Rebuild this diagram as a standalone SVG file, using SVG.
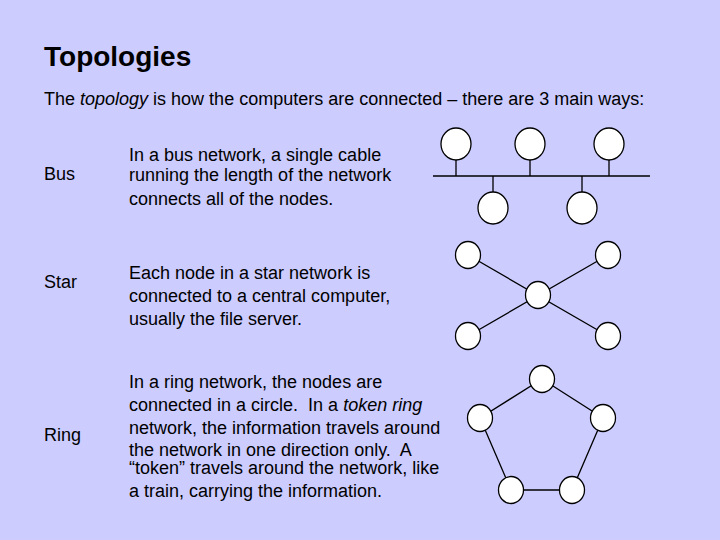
<svg xmlns="http://www.w3.org/2000/svg" width="720" height="540" viewBox="0 0 720 540">
<style>
text{font-family:"Liberation Sans",Arial,sans-serif;fill:#000;white-space:pre}
.b{font-size:18px}
.n{fill:#fff;stroke:#000;stroke-width:1.3}
.c{stroke:#000;stroke-width:1.3;fill:none}
</style>
<rect width="720" height="540" fill="#ccccff"/>
<text x="44" y="66" font-size="28" font-weight="bold">Topologies</text>
<text x="44" y="105" class="b">The <tspan font-style="italic">topology</tspan> is how the computers are connected – there are 3 main ways:</text>
<text x="44" y="180" class="b">Bus</text>
<text class="b"><tspan x="129" y="161">In a bus network, a single cable</tspan><tspan x="129" y="181">running the length of the network</tspan><tspan x="129" y="205">connects all of the nodes.</tspan></text>
<text x="44" y="288" class="b">Star</text>
<text class="b"><tspan x="129" y="279">Each node in a star network is</tspan><tspan x="129" y="302">connected to a central computer,</tspan><tspan x="129" y="325">usually the file server.</tspan></text>
<text x="44" y="441" class="b">Ring</text>
<text class="b"><tspan x="129" y="388">In a ring network, the nodes are</tspan><tspan x="129" y="411">connected in a circle.  In a <tspan font-style="italic">token ring</tspan></tspan><tspan x="129" y="434">network, the information travels around</tspan><tspan x="129" y="456">the network in one direction only.  A</tspan><tspan x="129" y="474">“token” travels around the network, like</tspan><tspan x="129" y="497">a train, carrying the information.</tspan></text>
<g id="connectors">
<path class="c" d="M433 176H650M456 160V176M530 160V176M609 160V176M493 176V192M582 176V192"/>
<path class="c" d="M468 255L608 336M608 255L468 336"/>
<path class="c" d="M542 379L603 418L572 490L511 490L480 418Z"/>
</g>
<g id="bus1"><ellipse class="n" cx="456" cy="144" rx="15" ry="16"/></g>
<g id="bus2"><ellipse class="n" cx="530" cy="144" rx="15" ry="16"/></g>
<g id="bus3"><ellipse class="n" cx="609" cy="144" rx="15" ry="16"/></g>
<g id="bus4"><ellipse class="n" cx="493" cy="208" rx="15" ry="16"/></g>
<g id="bus5"><ellipse class="n" cx="582" cy="208" rx="15" ry="16"/></g>
<g id="star1"><ellipse class="n" cx="468" cy="255" rx="12.5" ry="13.5"/></g>
<g id="star2"><ellipse class="n" cx="608" cy="255" rx="12.5" ry="13.5"/></g>
<g id="star0"><ellipse class="n" cx="538" cy="295" rx="12.5" ry="13.5"/></g>
<g id="star3"><ellipse class="n" cx="468" cy="336" rx="12.5" ry="13.5"/></g>
<g id="star4"><ellipse class="n" cx="608" cy="336" rx="12.5" ry="13.5"/></g>
<g id="ring1"><ellipse class="n" cx="542" cy="379" rx="12.5" ry="13.5"/></g>
<g id="ring2"><ellipse class="n" cx="603" cy="418" rx="12.5" ry="13.5"/></g>
<g id="ring3"><ellipse class="n" cx="572" cy="490" rx="12.5" ry="13.5"/></g>
<g id="ring4"><ellipse class="n" cx="511" cy="490" rx="12.5" ry="13.5"/></g>
<g id="ring5"><ellipse class="n" cx="480" cy="418" rx="12.5" ry="13.5"/></g>
</svg>
